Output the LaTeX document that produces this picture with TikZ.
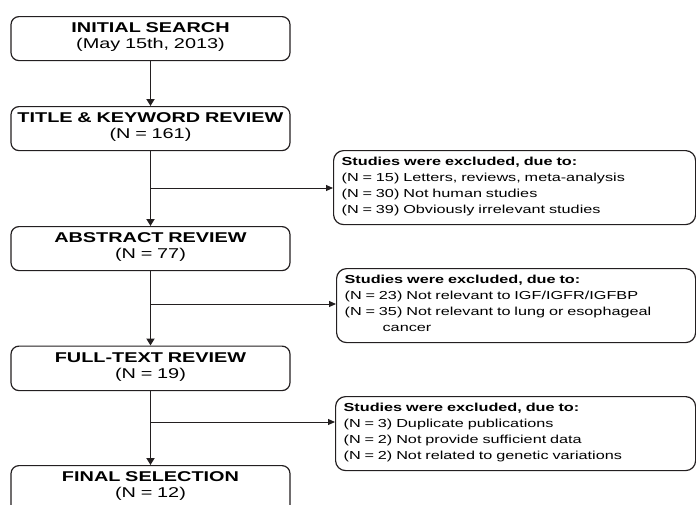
\documentclass[tikz,border=0pt]{standalone}
\usepackage{fontspec}
\setmainfont{Liberation Sans}[FakeStretch=1.4]
\usetikzlibrary{arrows.meta}
\definecolor{ink}{HTML}{231F20}
\newcommand{\fcltop}{\rule{0pt}{16pt}}
\newcommand{\fclbot}[1]{\rule[-#1]{0pt}{#1}}
\newcommand{\fcrtop}{\rule{0pt}{15pt}}
\newcommand{\fcrbot}{\rule[-11pt]{0pt}{11pt}}
\begin{document}
\begin{tikzpicture}[x=1pt,y=-1pt,
  stagebox/.style={draw=ink, line width=1.2pt, rounded corners=8pt, anchor=north,
    text width=279pt, inner xsep=0pt, inner ysep=0pt, align=center,
    font=\fontsize{14.2}{16}\selectfont},
  exbox/.style={draw=ink, line width=1.2pt, rounded corners=10pt, anchor=north west,
    inner xsep=8pt, inner ysep=0pt, align=left,
    font=\fontsize{11.6}{16}\selectfont},
  trunk/.style={draw=ink, line width=1.7pt, -{Triangle[length=7pt,width=8pt]}},
  branch/.style={draw=ink, line width=1pt, -{Triangle[length=7pt,width=6pt]}}]
\useasboundingbox (0,0) rectangle (696,504);
\clip (0,0) rectangle (696,504);

\node[stagebox] (b1) at (150.5,16) {\fcltop\textbf{INITIAL SEARCH}\\(May 15th, 2013)\fclbot{12pt}};
\node[stagebox] (b2) at (150.5,106) {\fcltop\textbf{TITLE \& KEYWORD REVIEW}\\(N = 161)\fclbot{12pt}};
\node[stagebox] (b3) at (150.5,226) {\fcltop\textbf{ABSTRACT REVIEW}\\(N = 77)\fclbot{12pt}};
\node[stagebox] (b4) at (150.5,345.5) {\fcltop\textbf{FULL-TEXT REVIEW}\\(N = 19)\fclbot{12.5pt}};
\node[stagebox] (b5) at (150.5,465) {\fcltop\textbf{FINAL SELECTION}\\(N = 12)\fclbot{30pt}};

\node[exbox, text width=346pt] (ea) at (333,150) {\fcrtop\textbf{Studies were excluded, due to:}\\
(N = 15) Letters, reviews, meta-analysis\\
(N = 30) Not human studies\\
(N = 39) Obviously irrelevant studies\fcrbot};
\node[exbox, text width=343pt] (eb) at (336,268) {\fcrtop\textbf{Studies were excluded, due to:}\\
(N = 23) Not relevant to IGF/IGFR/IGFBP\\
(N = 35) Not relevant to lung or esophageal\\
\hspace*{38pt}cancer\fcrbot};
\node[exbox, text width=344pt] (ec) at (335,396) {\fcrtop\textbf{Studies were excluded, due to:}\\
(N = 3) Duplicate publications\\
(N = 2) Not provide sufficient data\\
(N = 2) Not related to genetic variations\fcrbot};

\coordinate (j1) at (151,188);
\coordinate (j2) at (151,304);
\coordinate (j3) at (151,422);

\draw[trunk] (b1.south) -- (b2.north);
\draw[trunk] (b2.south) -- (b3.north);
\draw[trunk] (b3.south) -- (b4.north);
\draw[trunk] (b4.south) -- (b5.north);
\draw[branch] (j1) -- (j1 -| ea.west);
\draw[branch] (j2) -- (j2 -| eb.west);
\draw[branch] (j3) -- (j3 -| ec.west);
\end{tikzpicture}
\end{document}
